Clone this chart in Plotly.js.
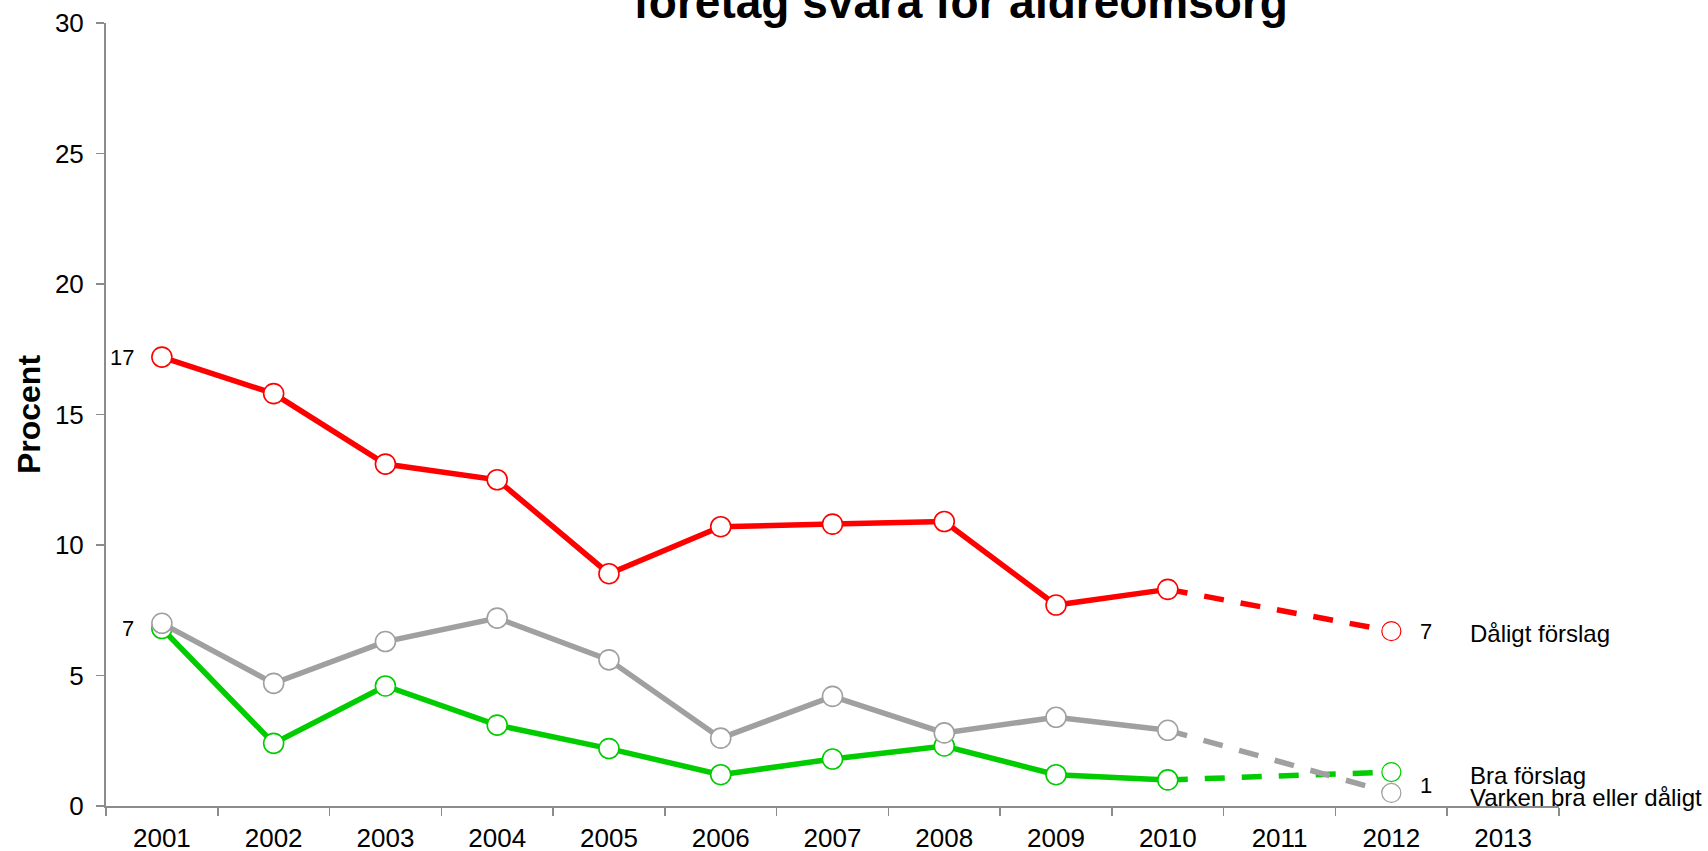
<!DOCTYPE html>
<html>
<head>
<meta charset="utf-8">
<script src="https://cdn.plot.ly/plotly-3.0.1.min.js"></script>
<style>html,body{margin:0;padding:0;background:#fff;}#chart{width:1708px;height:851px;}</style>
</head>
<body>
<div id="chart"></div>
<script>
// Categories (x axis)
const years = ['2001','2002','2003','2004','2005','2006','2007','2008','2009','2010','2011','2012','2013'];
const solidYears = ['2001','2002','2003','2004','2005','2006','2007','2008','2009','2010'];
const lastYear = '2012';

// Series values (percent)
const daligt = [17.2, 15.8, 13.1, 12.5, 8.9, 10.7, 10.8, 10.9, 7.7, 8.3];
const daligtLast = 6.7;
const varken = [7.0, 4.7, 6.3, 7.2, 5.6, 2.6, 4.2, 2.8, 3.4, 2.9];
const varkenLast = 0.5;
const bra = [6.8, 2.4, 4.6, 3.1, 2.2, 1.2, 1.8, 2.3, 1.2, 1.0];
const braLast = 1.3;

// Labels
const seriesNames = ['Dåligt förslag', 'Bra förslag', 'Varken bra eller dåligt'];
const firstLabels = ['17', '7'];
const lastLabels = ['7', '1'];
const yTicks = [0, 5, 10, 15, 20, 25, 30];

const RED = '#FF0000', GREEN = '#00CC00', GRAY = '#A0A0A0';
const AXIS = '#8C8C8C';
const FONT = '"Liberation Sans", Arial, sans-serif';

function series(vals, last, color, name) {
  return [
    {x: [solidYears[solidYears.length-1], lastYear], y: [vals[vals.length-1], last],
     mode: 'lines', line: {color: color, width: 5.5, dash: '20px,17px'},
     hoverinfo: 'skip', showlegend: false, cliponaxis: false},
    {x: solidYears, y: vals, name: name, mode: 'lines+markers',
     line: {color: color, width: 5.5},
     marker: {symbol: 'circle', size: 20, color: '#FFFFFF', line: {color: color, width: 1.6}},
     showlegend: false, cliponaxis: false},
    {x: [lastYear], y: [last], mode: 'markers',
     marker: {symbol: 'circle', size: 19, color: '#FFFFFF', line: {color: color, width: 1.2}},
     showlegend: false, cliponaxis: false}
  ];
}

const data = [].concat(
  series(bra, braLast, GREEN, seriesNames[1]),
  series(varken, varkenLast, GRAY, seriesNames[2]),
  series(daligt, daligtLast, RED, seriesNames[0])
);

const annFont = {family: FONT, size: 22, color: '#000'};
const nameFont = {family: FONT, size: 24, color: '#000'};
// annotation x is given as the category's index on the category axis
function ann(cat, y, text, anchor, xs, ys, font) {
  return {xref: 'x', yref: 'y', x: years.indexOf(cat), y: y, text: text, xanchor: anchor, yanchor: 'middle',
          xshift: xs, yshift: ys, showarrow: false, font: font};
}
const annotations = [
  ann(solidYears[0], daligt[0], firstLabels[0], 'right', -26, 0, annFont),
  ann(solidYears[0], bra[0], firstLabels[1], 'right', -26, 0, annFont),
  ann(lastYear, daligtLast, lastLabels[0], 'left', 27, 0, annFont),
  ann(lastYear, braLast, lastLabels[1], 'left', 27, -13, annFont),
  ann(lastYear, daligtLast, seriesNames[0], 'left', 77, -2, nameFont),
  ann(lastYear, braLast, seriesNames[1], 'left', 77, -3, nameFont),
  ann(lastYear, varkenLast, seriesNames[2], 'left', 77, -5, nameFont)
];

const layout = {
  width: 1708, height: 851,
  margin: {l: 106, r: 149, t: 23, b: 45, pad: 0},
  paper_bgcolor: '#FFFFFF', plot_bgcolor: '#FFFFFF',
  font: {family: FONT, color: '#000'},
  title: {text: 'företag svara för äldreomsorg', font: {family: FONT, size: 46, weight: 'bold', color: '#000'},
          x: 0.5625, xref: 'container', xanchor: 'center', y: 0.9785, yref: 'container', yanchor: 'bottom'},
  showlegend: false,
  xaxis: {type: 'category', categoryorder: 'array', categoryarray: years, tickvals: years,
          range: [-0.5, 12.5], tickson: 'boundaries', ticks: 'outside', ticklen: 8, tickwidth: 1.5, tickcolor: AXIS,
          showline: true, linecolor: AXIS, linewidth: 2, showgrid: false, zeroline: false,
          tickfont: {family: FONT, size: 26, color: '#000'}, ticklabelstandoff: 8, fixedrange: true},
  yaxis: {range: [0, 30], tickvals: yTicks, ticks: 'outside', ticklen: 8, tickwidth: 1.5, tickcolor: AXIS,
          showline: true, linecolor: AXIS, linewidth: 2, showgrid: false, zeroline: false,
          tickfont: {family: FONT, size: 26, color: '#000'}, ticklabelstandoff: 7,
          title: {text: 'Procent', font: {family: FONT, size: 32, weight: 'bold', color: '#000'}, standoff: 5},
          fixedrange: true},
  annotations: annotations
};

Plotly.newPlot('chart', data, layout, {displayModeBar: false, staticPlot: true});
</script>
</body>
</html>
